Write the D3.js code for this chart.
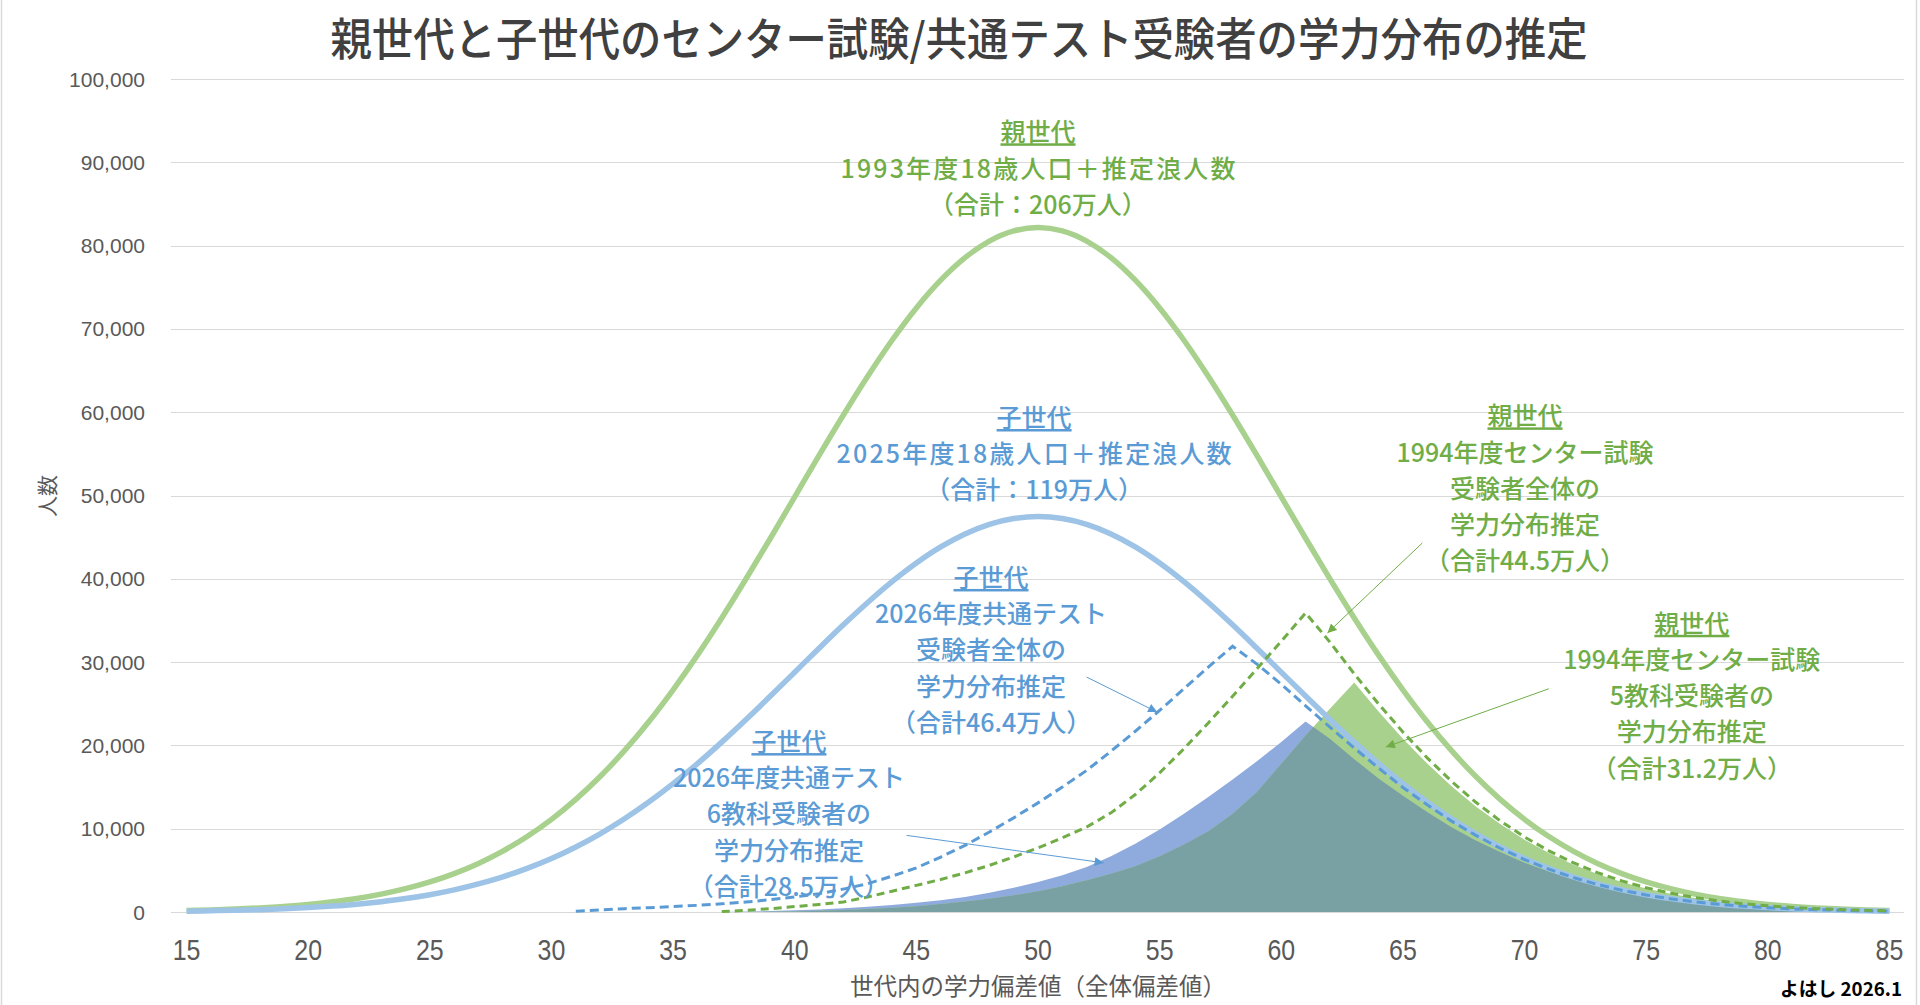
<!DOCTYPE html>
<html>
<head>
<meta charset="utf-8">
<script src="https://cdn.jsdelivr.net/npm/d3@7"></script>
<style>
body { margin: 0; background: #fff; }
text { font-family: "Noto Sans CJK JP", "Noto Sans", sans-serif; }
</style>
</head>
<body>
<div id="chart"></div>
<script>
// tick labels
const xTicks = [15, 20, 25, 30, 35, 40, 45, 50, 55, 60, 65, 70, 75, 80, 85];
const yTicks = [0, 10000, 20000, 30000, 40000, 50000, 60000, 70000, 80000, 90000, 100000];

// 親世代 1993年度18歳人口＋推定浪人数 (x = 15..85)
const parentPop = [180, 250, 360, 490, 670, 910, 1230, 1630, 2150, 2800, 3610, 4610, 5830, 7310, 9060,
    11120, 13520, 16260, 19370, 22840, 26680, 30840, 35300, 40000, 44870, 49840, 54810, 59660, 64310, 68640,
    72520, 75850, 78560, 80540, 81760, 82170, 81760, 80540, 78560, 75850, 72520, 68640, 64310, 59660, 54810,
    49840, 44870, 40000, 35300, 30840, 26680, 22840, 19370, 16260, 13520, 11120, 9060, 7310, 5830, 4610,
    3610, 2800, 2150, 1630, 1230, 910, 670, 490, 360, 250, 180];

// 子世代 2025年度18歳人口＋推定浪人数 (x = 15..85)
const childPop = [100, 150, 210, 280, 390, 530, 710, 940, 1240, 1610, 2080, 2660, 3370, 4220, 5240,
    6420, 7810, 9390, 11190, 13200, 15410, 17810, 20390, 23110, 25920, 28790, 31660, 34470, 37150, 39650,
    41890, 43820, 45380, 46530, 47230, 47470, 47230, 46530, 45380, 43820, 41890, 39650, 37150, 34470, 31660,
    28790, 25920, 23110, 20390, 17810, 15410, 13200, 11190, 9390, 7810, 6420, 5240, 4220, 3370, 2660,
    2080, 1610, 1240, 940, 710, 530, 390, 280, 210, 150, 100];

// 子世代 2026年度共通テスト受験者全体 (x = 31..85)
const childTestAllStart = 31;
const childTestAll = [100, 250, 400, 520, 650, 800, 980, 1200, 1480, 1800, 2200, 2750, 3400, 4300, 5300,
    6600, 8000, 9600, 11300, 13100, 15000, 17000, 19300, 21700, 24200, 26800, 29400, 31900, 29760, 27350,
    24750, 22190, 19680, 17280, 14950, 12870, 10910, 9200, 7650, 6300, 5140, 4140, 3310, 2610, 2040,
    1580, 1220, 920, 700, 520, 380, 280, 200, 145, 100];

// 親世代 1994年度センター試験受験者全体 (x = 37..85)
const parentTestAllStart = 37;
const parentTestAll = [50, 200, 400, 650, 900, 1200, 1800, 2500, 3200, 3900, 4700, 5600, 6600, 7700, 8900,
    10200, 11900, 14100, 16700, 19600, 22700, 25900, 29200, 32500, 35900, 32400, 28590, 24980, 21610, 18500,
    15690, 13170, 10950, 9010, 7340, 5920, 4720, 3730, 2920, 2270, 1740, 1320, 990, 740, 545,
    398, 288, 206, 146];

// 子世代 2026年度共通テスト6教科受験者 (x = 37..85)
const childTest6Start = 37;
const childTest6 = [0, 50, 120, 200, 300, 450, 620, 850, 1100, 1400, 1800, 2300, 2900, 3600, 4400,
    5400, 6700, 8200, 9900, 11800, 13800, 15900, 18100, 20400, 22870, 20800, 18350, 16030, 13950, 12010,
    10180, 8590, 7190, 5910, 4850, 3920, 3130, 2490, 1960, 1510, 1170, 880, 670, 495, 365,
    267, 193, 138, 98];

// 親世代 1994年度センター試験5教科受験者 (x = 38..85)
const parentTest5Start = 38;
const parentTest5 = [0, 20, 70, 140, 230, 350, 500, 700, 950, 1250, 1600, 2000, 2500, 3100, 3800,
    4600, 5500, 6700, 8100, 9700, 11800, 14400, 17800, 21200, 24400, 27560, 24060, 20810, 17820, 15110,
    12680, 10550, 8670, 7070, 5700, 4550, 3600, 2820, 2180, 1680, 1270, 960, 710, 525, 383,
    277, 198, 140];

// label texts
const labelParentPop = ["親世代", "1993年度18歳人口＋推定浪人数", "（合計：206万人）"];
const labelChildPop = ["子世代", "2025年度18歳人口＋推定浪人数", "（合計：119万人）"];
const labelChildAll = ["子世代", "2026年度共通テスト", "受験者全体の", "学力分布推定", "（合計46.4万人）"];
const labelChild6 = ["子世代", "2026年度共通テスト", "6教科受験者の", "学力分布推定", "（合計28.5万人）"];
const labelParentAll = ["親世代", "1994年度センター試験", "受験者全体の", "学力分布推定", "（合計44.5万人）"];
const labelParent5 = ["親世代", "1994年度センター試験", "5教科受験者の", "学力分布推定", "（合計31.2万人）"];

function toPoints(start, values) {
    return values.map(function(v, i) { return [start + i, v]; });
}

function makeChart() {
    const W = 1920, H = 1005;
    const green = "#70ad47", blue = "#5b9bd5";

    var svg = d3.select("#chart")
        .append("svg")
        .attr("width", W)
        .attr("height", H);

    var x = d3.scaleLinear().domain([14.4, 85.6]).range([172, 1904]);
    var y = d3.scaleLinear().domain([0, 100000]).range([912, 79]);

    // outer frame
    svg.append("line").attr("x1", 1.5).attr("x2", 1.5).attr("y1", 0).attr("y2", H)
        .attr("stroke", "#d9d9d9").attr("stroke-width", 1.5);
    svg.append("line").attr("x1", 1916.5).attr("x2", 1916.5).attr("y1", 0).attr("y2", H)
        .attr("stroke", "#d9d9d9").attr("stroke-width", 1.5);

    //Title
    svg.append("text")
        .attr("x", 959)
        .attr("y", 36)
        .attr("text-anchor", "middle")
        .attr("dominant-baseline", "central")
        .attr("font-size", "45px")
        .attr("font-weight", 500)
        .attr("fill", "#404040")
        .attr("textLength", 1257)
        .attr("lengthAdjust", "spacingAndGlyphs")
        .text("親世代と子世代のセンター試験/共通テスト受験者の学力分布の推定");

    // grid lines + y labels
    svg.append("g")
        .selectAll("line")
        .data(yTicks)
        .join("line")
        .attr("x1", 171)
        .attr("x2", 1904)
        .attr("y1", d => Math.round(y(d)) + 0.5)
        .attr("y2", d => Math.round(y(d)) + 0.5)
        .attr("stroke", "#d9d9d9")
        .attr("stroke-width", 1.2);

    svg.append("g")
        .selectAll("text")
        .data(yTicks)
        .join("text")
        .attr("x", 145)
        .attr("y", d => y(d))
        .attr("text-anchor", "end")
        .attr("dominant-baseline", "central")
        .style("font-family", "'Liberation Sans', Arial, sans-serif")
        .attr("font-size", "21px")
        .attr("fill", "#595959")
        .text(d => d3.format(",")(d));

    // x labels (slightly condensed)
    svg.append("g")
        .selectAll("text")
        .data(xTicks)
        .join("text")
        .attr("transform", d => `translate(${x(d)},950) scale(0.86,1)`)
        .attr("text-anchor", "middle")
        .attr("dominant-baseline", "central")
        .style("font-family", "'Liberation Sans', Arial, sans-serif")
        .attr("font-size", "29px")
        .attr("fill", "#595959")
        .text(d => d);

    // axis titles
    svg.append("text")
        .attr("x", 1038)
        .attr("y", 984)
        .attr("text-anchor", "middle")
        .attr("dominant-baseline", "central")
        .attr("font-size", "24px")
        .attr("fill", "#595959")
        .attr("textLength", 376)
        .attr("lengthAdjust", "spacingAndGlyphs")
        .text("世代内の学力偏差値（全体偏差値）");
    svg.append("text")
        .attr("transform", "translate(46,496) rotate(-90)")
        .attr("text-anchor", "middle")
        .attr("dominant-baseline", "central")
        .attr("font-size", "21px")
        .attr("fill", "#595959")
        .text("人数");
    svg.append("text")
        .attr("x", 1902)
        .attr("y", 987)
        .attr("text-anchor", "end")
        .attr("dominant-baseline", "central")
        .attr("font-size", "19px")
        .attr("font-weight", "bold")
        .attr("fill", "#000")
        .attr("textLength", 122)
        .attr("lengthAdjust", "spacingAndGlyphs")
        .text("よはし 2026.1");

    var area = d3.area()
        .x(d => x(d[0]))
        .y0(y(0))
        .y1(d => y(d[1]));
    var line = d3.line()
        .x(d => x(d[0]))
        .y(d => y(d[1]));
    var smooth = d3.line()
        .x(d => x(d[0]))
        .y(d => y(d[1]))
        .curve(d3.curveMonotoneX);

    var child6Pts = toPoints(childTest6Start, childTest6);
    var parent5Pts = toPoints(parentTest5Start, parentTest5);

    var defs = svg.append("defs");
    defs.append("clipPath")
        .attr("id", "clip6")
        .append("path")
        .attr("d", area(child6Pts));

    // areas, overlap drawn in teal
    svg.append("path").attr("d", area(child6Pts)).attr("fill", "#8faadc");
    svg.append("path").attr("d", area(parent5Pts)).attr("fill", "#a9d18e");
    svg.append("path").attr("d", area(parent5Pts)).attr("fill", "#79a1a3")
        .attr("clip-path", "url(#clip6)");

    // population curves
    svg.append("path")
        .attr("d", smooth(toPoints(15, parentPop)))
        .attr("fill", "none")
        .attr("stroke", "#a9d18e")
        .attr("stroke-width", 5.5);
    svg.append("path")
        .attr("d", smooth(toPoints(15, childPop)))
        .attr("fill", "none")
        .attr("stroke", "#9dc3e6")
        .attr("stroke-width", 5.5);

    // test takers (dashed)
    svg.append("path")
        .attr("d", line(toPoints(childTestAllStart, childTestAll)))
        .attr("fill", "none")
        .attr("stroke", blue)
        .attr("stroke-width", 3)
        .style("stroke-dasharray", "9, 5");
    svg.append("path")
        .attr("d", line(toPoints(parentTestAllStart, parentTestAll)))
        .attr("fill", "none")
        .attr("stroke", green)
        .attr("stroke-width", 3)
        .style("stroke-dasharray", "8, 5");

    // arrow heads
    [["arrBlue", blue], ["arrGreen", green]].forEach(function(m) {
        defs.append("marker")
            .attr("id", m[0])
            .attr("viewBox", "0 0 10 10")
            .attr("refX", 10)
            .attr("refY", 5)
            .attr("markerWidth", 12)
            .attr("markerHeight", 9)
            .attr("markerUnits", "userSpaceOnUse")
            .attr("orient", "auto")
            .append("path")
            .attr("d", "M0,0 L10,5 L0,10 z")
            .attr("fill", m[1]);
    });

    function leader(x1, y1, x2, y2, color, marker) {
        svg.append("line")
            .attr("x1", x(x1)).attr("y1", y(y1))
            .attr("x2", x(x2)).attr("y2", y(y2))
            .attr("stroke", color)
            .attr("stroke-width", 1)
            .attr("marker-end", `url(#${marker})`);
    }
    leader(52.0, 28200, 54.9, 24000, blue, "arrBlue");
    leader(44.6, 9200, 52.7, 5900, blue, "arrBlue");
    leader(65.8, 44300, 61.9, 33500, green, "arrGreen");
    leader(71.0, 26800, 64.3, 19800, green, "arrGreen");

    // text blocks, first line underlined
    function label(lines, cx, topVal, color) {
        var g = svg.append("g");
        lines.forEach(function(t, i) {
            var tx = g.append("text")
                .attr("x", x(cx))
                .attr("y", y(topVal) - 2 + i * 36.2)
                .attr("text-anchor", "middle")
                .attr("dominant-baseline", "central")
                .attr("font-size", "25px")
                .attr("font-weight", 500)
                .attr("fill", color)
                .text(t);
            if (i === 0) tx.attr("text-decoration", "underline");
            // the "＋" lines are set wider in the original
            if (t.indexOf("＋") >= 0) tx.attr("textLength", 395);
        });
    }
    label(labelParentPop, 50.0, 93600, green);
    label(labelChildPop, 49.84, 59300, blue);
    label(labelChildAll, 48.07, 40100, blue);
    label(labelChild6, 39.76, 20400, blue);
    label(labelParentAll, 70.02, 59500, green);
    label(labelParent5, 76.88, 34600, green);
}

makeChart();
</script>
</body>
</html>
